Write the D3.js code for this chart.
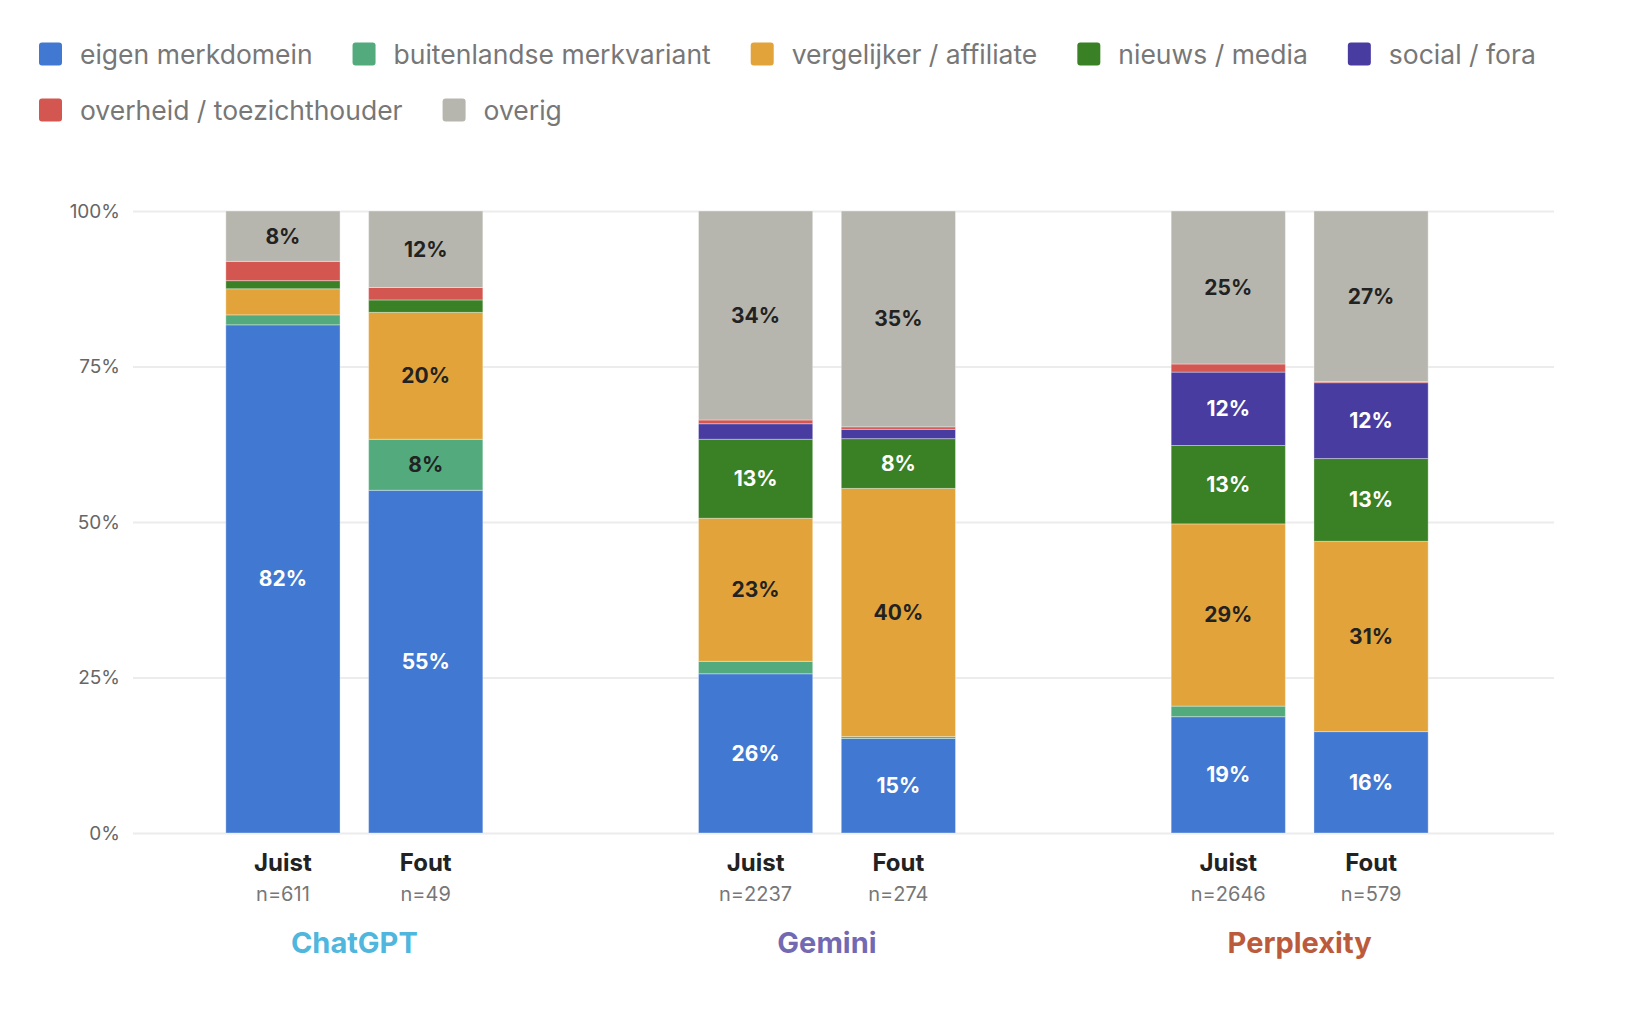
<!DOCTYPE html>
<html>
<head>
<meta charset="utf-8">
<script src="https://cdn.jsdelivr.net/npm/d3@7"></script>
<style>
  html, body { margin: 0; padding: 0; background: #fff; }
  svg { display: block; font-family: Inter, "Noto Sans", sans-serif; }
</style>
</head>
<body>
<svg id="chart" width="1628" height="1030"></svg>
<script>
// categories, bottom of the stack first
const categories = ['eigen merkdomein', 'buitenlandse merkvariant', 'vergelijker / affiliate',
  'nieuws / media', 'social / fora', 'overheid / toezichthouder', 'overig'];
const categoryColors = ['#4178d1', '#53ab7d', '#e2a43a', '#3a8024', '#483ca0', '#d45650', '#b7b6ae'];
const darkText = ['overig', 'vergelijker / affiliate', 'buitenlandse merkvariant'];

const models = ['ChatGPT', 'Gemini', 'Perplexity'];
const modelColors = ['#4fb6dd', '#7369b3', '#bc5a3c'];
const answers = ['Juist', 'Fout'];

// sample sizes per model, [Juist, Fout]
const sampleSizes = [[611, 49], [2237, 274], [2646, 579]];

// share per category (percent), same order as categories
const chatgptJuist    = [81.7, 1.6, 4.2, 1.3, 0, 3.1, 8.1];
const chatgptFout     = [55.1, 8.2, 20.4, 2.0, 0, 2.0, 12.3];
const geminiJuist     = [25.6, 2.0, 23.0, 12.7, 2.5, 0.6, 33.6];
const geminiFout      = [15.2, 0.3, 39.9, 8.0, 1.5, 0.4, 34.7];
const perplexityJuist = [18.7, 1.7, 29.3, 12.6, 11.8, 1.3, 24.6];
const perplexityFout  = [16.3, 0, 30.6, 13.3, 12.2, 0.2, 27.4];

const yTicks = [0, 25, 50, 75, 100];

const series = [
  [chatgptJuist, chatgptFout],
  [geminiJuist, geminiFout],
  [perplexityJuist, perplexityFout]
];

// one row per bar for d3.stack
const rows = [];
models.forEach((m, i) => {
  answers.forEach((a, j) => {
    const row = { model: m, answer: a, n: sampleSizes[i][j] };
    categories.forEach((c, k) => row[c] = series[i][j][k]);
    rows.push(row);
  });
});

const svg = d3.select('#chart');
const gridLeft = 133, gridRight = 1554;
const yTop = 211, yBottom = 833;

const y = d3.scaleLinear().domain([0, 100]).range([yBottom, yTop]);
const x0 = d3.scaleBand().domain(models).range([118, 1536]);
const x1 = d3.scaleBand().domain(answers).range([-128.5, 128.5]).paddingInner(0.2);
const color = d3.scaleOrdinal().domain(categories).range(categoryColors);
const barX = d => x0(d.model) + x0.bandwidth() / 2 + x1(d.answer);

// grid + y labels
const yAxis = svg.append('g')
  .attr('transform', `translate(${gridLeft},0)`)
  .call(d3.axisLeft(y).tickValues(yTicks).tickFormat(d => d + '%')
    .tickSize(-(gridRight - gridLeft)).tickPadding(13));
yAxis.select('.domain').remove();
yAxis.selectAll('.tick line').attr('stroke', '#ececec').attr('stroke-width', 2);
yAxis.selectAll('.tick text')
  .attr('fill', '#666')
  .style('font-size', '19px')
  .style('font-family', 'Inter, sans-serif');

// stacked bars
const stacked = d3.stack().keys(categories)(rows);

const layers = svg.append('g').selectAll('g')
  .data(stacked)
  .join('g')
    .attr('fill', d => color(d.key));

layers.selectAll('rect')
  .data(d => d.filter(s => s[1] - s[0] > 0))
  .join('rect')
    .attr('x', d => barX(d.data))
    .attr('y', d => y(d[1]))
    .attr('width', x1.bandwidth())
    .attr('height', d => y(d[0]) - y(d[1]))
    .attr('stroke', 'rgba(255,255,255,0.35)')
    .attr('stroke-width', 1);

// value labels inside big enough segments
const labels = [];
stacked.forEach(layer => {
  layer.forEach(s => {
    if (s[1] - s[0] >= 5) labels.push({ key: layer.key, s: s });
  });
});
svg.append('g').selectAll('text')
  .data(labels)
  .join('text')
    .attr('x', d => barX(d.s.data) + x1.bandwidth() / 2)
    .attr('y', d => y((d.s[0] + d.s[1]) / 2))
    .attr('text-anchor', 'middle')
    .attr('dominant-baseline', 'central')
    .attr('fill', d => darkText.includes(d.key) ? '#222' : '#fff')
    .style('font-size', '21px')
    .style('font-weight', '700')
    .text(d => Math.round(d.s[1] - d.s[0]) + '%');

// x labels
const xl = svg.append('g');
xl.selectAll('.answer')
  .data(rows)
  .join('text')
    .attr('class', 'answer')
    .attr('x', d => barX(d) + x1.bandwidth() / 2)
    .attr('y', 871)
    .attr('text-anchor', 'middle')
    .attr('fill', '#222')
    .style('font-size', '24px')
    .style('font-weight', '700')
    .text(d => d.answer);
xl.selectAll('.n')
  .data(rows)
  .join('text')
    .attr('class', 'n')
    .attr('x', d => barX(d) + x1.bandwidth() / 2)
    .attr('y', 901)
    .attr('text-anchor', 'middle')
    .attr('fill', '#777')
    .style('font-size', '20px')
    .text(d => 'n=' + d.n);
xl.selectAll('.model')
  .data(models)
  .join('text')
    .attr('class', 'model')
    .attr('x', d => x0(d) + x0.bandwidth() / 2)
    .attr('y', 953)
    .attr('text-anchor', 'middle')
    .attr('fill', (d, i) => modelColors[i])
    .style('font-size', '29px')
    .style('font-weight', '700')
    .text(d => d);

// legend, flowing in rows
const legend = svg.append('g');
let lx = 39, ly = 54;
const legendMax = 1580;
categories.forEach((c, i) => {
  const item = legend.append('g');
  item.append('rect')
    .attr('width', 23).attr('height', 23)
    .attr('rx', 3)
    .attr('y', -11.5)
    .attr('fill', color(c));
  const t = item.append('text')
    .attr('x', 41)
    .attr('dominant-baseline', 'central')
    .attr('fill', '#777')
    .style('font-size', '26.5px')
    .text(c);
  const w = 41 + t.node().getComputedTextLength();
  if (lx + w > legendMax) { lx = 39; ly += 56; }
  item.attr('transform', `translate(${lx},${ly})`);
  lx += w + 40;
});
</script>
</body>
</html>
